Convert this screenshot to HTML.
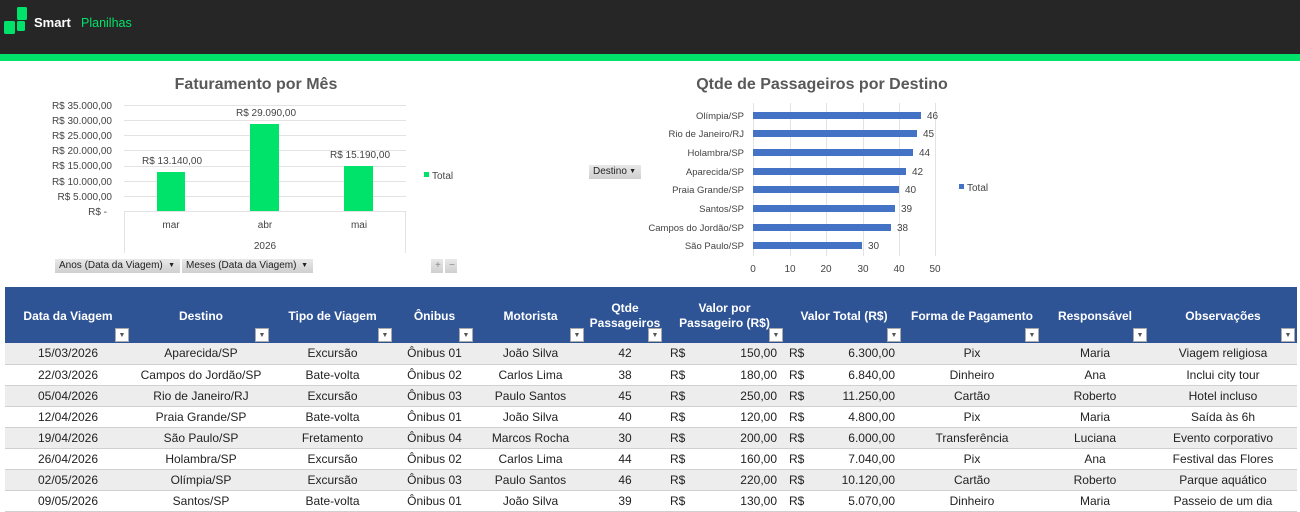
<!DOCTYPE html>
<html><head><meta charset="utf-8"><style>
*{margin:0;padding:0;box-sizing:border-box}
body{width:1300px;height:512px;overflow:hidden;background:#fff;font-family:"Liberation Sans",sans-serif;position:relative}
.top{position:absolute;left:0;top:0;width:1300px;height:54px;background:#262626}
.stripe{position:absolute;left:0;top:54px;width:1300px;height:7px;background:#00E36A}
.btn{position:absolute;height:14px;background:linear-gradient(#e8e8e8,#cfcfcf);font-size:10px;color:#222;padding-left:4px;line-height:14px}
.btn span{position:absolute;right:5px;top:0;font-size:7px}
table{position:absolute;left:5px;top:287px;border-collapse:collapse;table-layout:fixed;width:1292px;font-size:12px;color:#222}
th{background:#2F5496;color:#fff;font-size:12px;font-weight:bold;height:56px;position:relative;text-align:center;line-height:15px;padding-top:2px}
th i{position:absolute;right:2px;bottom:1px;width:14px;height:14px;background:#fff;border:1px solid #aaa;font-style:normal;color:#555;font-size:7px;line-height:13px;text-align:center}
td{height:21px;text-align:center;white-space:nowrap;border-bottom:1px solid #d0d0d0}
tr.g td{background:#EDEDED}
td.r{text-align:right;padding-right:8px}
</style></head><body>
<div class="top"></div><div class="stripe"></div>
<svg style="position:absolute;left:0;top:0" width="200" height="54">
<rect x="17" y="7" width="10" height="13" rx="1.5" fill="#00E36A"/>
<rect x="4" y="21" width="11" height="13" rx="1.5" fill="#00E36A"/>
<rect x="17" y="21" width="8" height="10" rx="1.5" fill="#00E36A"/>
<text x="34" y="27" font-family="Liberation Sans" font-weight="bold" font-size="13" fill="#fff">Smart</text>
<text x="81" y="27" font-family="Liberation Sans" font-size="12.5" fill="#00E36A">Planilhas</text>
</svg>

<svg style="position:absolute;left:0;top:60px" width="1300" height="220" font-family="Liberation Sans">
<g transform="translate(0,-60)">
<text x="256" y="89" text-anchor="middle" font-size="16" font-weight="bold" fill="#595959">Faturamento por Mês</text>
<g stroke="#e3e3e3" stroke-width="1">
<line x1="124" x2="406" y1="105.5" y2="105.5"/><line x1="124" x2="406" y1="120.5" y2="120.5"/>
<line x1="124" x2="406" y1="135.5" y2="135.5"/><line x1="124" x2="406" y1="150.5" y2="150.5"/>
<line x1="124" x2="406" y1="166.5" y2="166.5"/><line x1="124" x2="406" y1="181.5" y2="181.5"/>
<line x1="124" x2="406" y1="196.5" y2="196.5"/><line x1="124" x2="406" y1="211.5" y2="211.5"/>
<line x1="124.5" x2="124.5" y1="211" y2="253"/><line x1="405.5" x2="405.5" y1="211" y2="253"/>
</g>
<g font-size="10" fill="#444" text-anchor="end">
<text x="112" y="109">R$ 35.000,00</text><text x="112" y="124">R$ 30.000,00</text>
<text x="112" y="139">R$ 25.000,00</text><text x="112" y="154">R$ 20.000,00</text>
<text x="112" y="169">R$ 15.000,00</text><text x="112" y="185">R$ 10.000,00</text>
<text x="112" y="200">R$ 5.000,00</text><text x="107" y="215">R$ -</text>
</g>
<rect x="157" y="172" width="28" height="39" fill="#00E36A"/>
<rect x="250" y="124" width="29" height="87" fill="#00E36A"/>
<rect x="344" y="166" width="29" height="45" fill="#00E36A"/>
<g font-size="10" fill="#444" text-anchor="middle">
<text x="172" y="164">R$ 13.140,00</text><text x="266" y="116">R$ 29.090,00</text><text x="360" y="158">R$ 15.190,00</text>
<text x="171" y="228">mar</text><text x="265" y="228">abr</text><text x="359" y="228">mai</text>
<text x="265" y="249">2026</text>
</g>
<rect x="424" y="172" width="5" height="5" fill="#00E36A"/><text x="432" y="179" font-size="10" fill="#444">Total</text>

<text x="822" y="89" text-anchor="middle" font-size="16" font-weight="bold" fill="#595959">Qtde de Passageiros por Destino</text>
<g stroke="#e3e3e3">
<line x1="753.5" x2="753.5" y1="103" y2="256"/><line x1="790.5" x2="790.5" y1="103" y2="256"/>
<line x1="826.5" x2="826.5" y1="103" y2="256"/><line x1="863.5" x2="863.5" y1="103" y2="256"/>
<line x1="899.5" x2="899.5" y1="103" y2="256"/><line x1="935.5" x2="935.5" y1="103" y2="256"/>
</g>
<g fill="#4472C4">
<rect x="753" y="112" width="168" height="7"/><rect x="753" y="130" width="164" height="7"/>
<rect x="753" y="149" width="160" height="7"/><rect x="753" y="168" width="153" height="7"/>
<rect x="753" y="186" width="146" height="7"/><rect x="753" y="205" width="142" height="7"/>
<rect x="753" y="224" width="138" height="7"/><rect x="753" y="242" width="109" height="7"/>
</g>
<g font-size="9.5" fill="#444" text-anchor="end">
<text x="744" y="119">Olímpia/SP</text><text x="744" y="137">Rio de Janeiro/RJ</text>
<text x="744" y="156">Holambra/SP</text><text x="744" y="175">Aparecida/SP</text>
<text x="744" y="193">Praia Grande/SP</text><text x="744" y="212">Santos/SP</text>
<text x="744" y="231">Campos do Jordão/SP</text><text x="744" y="249">São Paulo/SP</text>
</g>
<g font-size="10" fill="#444">
<text x="927" y="119">46</text><text x="923" y="137">45</text><text x="919" y="156">44</text><text x="912" y="175">42</text>
<text x="905" y="193">40</text><text x="901" y="212">39</text><text x="897" y="231">38</text><text x="868" y="249">30</text>
</g>
<g font-size="10" fill="#444" text-anchor="middle">
<text x="753" y="272">0</text><text x="790" y="272">10</text><text x="826" y="272">20</text>
<text x="863" y="272">30</text><text x="899" y="272">40</text><text x="935" y="272">50</text>
</g>
<rect x="959" y="184" width="5" height="5" fill="#4472C4"/><text x="967" y="191" font-size="10" fill="#444">Total</text>
</g></svg>

<div class="btn" style="left:55px;top:259px;width:125px">Anos (Data da Viagem)<span>▼</span></div>
<div class="btn" style="left:182px;top:259px;width:131px">Meses (Data da Viagem)<span>▼</span></div>
<div class="btn" style="left:431px;top:259px;width:12px;color:#888">+</div>
<div class="btn" style="left:445px;top:259px;width:12px;color:#888">−</div>
<div class="btn" style="left:589px;top:165px;width:52px">Destino<span>▼</span></div>

<table>
<colgroup><col style="width:126px"><col style="width:140px"><col style="width:123px"><col style="width:81px"><col style="width:111px"><col style="width:78px"><col style="width:121px"><col style="width:118px"><col style="width:138px"><col style="width:108px"><col style="width:148px"></colgroup>
<tr><th>Data da Viagem<i>▼</i></th><th>Destino<i>▼</i></th><th>Tipo de Viagem<i>▼</i></th><th>Ônibus<i>▼</i></th><th>Motorista<i>▼</i></th><th>Qtde<br>Passageiros<i>▼</i></th><th>Valor por<br>Passageiro (R$)<i>▼</i></th><th>Valor Total (R$)<i>▼</i></th><th>Forma de Pagamento<i>▼</i></th><th>Responsável<i>▼</i></th><th>Observações<i>▼</i></th></tr>
<tr class="g"><td>15/03/2026</td><td>Aparecida/SP</td><td>Excursão</td><td>Ônibus 01</td><td>João Silva</td><td>42</td><td class="r"><span style="float:left;padding-left:6px">R$</span>150,00</td><td class="r"><span style="float:left;padding-left:4px">R$</span>6.300,00</td><td>Pix</td><td>Maria</td><td>Viagem religiosa</td></tr>
<tr><td>22/03/2026</td><td>Campos do Jordão/SP</td><td>Bate-volta</td><td>Ônibus 02</td><td>Carlos Lima</td><td>38</td><td class="r"><span style="float:left;padding-left:6px">R$</span>180,00</td><td class="r"><span style="float:left;padding-left:4px">R$</span>6.840,00</td><td>Dinheiro</td><td>Ana</td><td>Inclui city tour</td></tr>
<tr class="g"><td>05/04/2026</td><td>Rio de Janeiro/RJ</td><td>Excursão</td><td>Ônibus 03</td><td>Paulo Santos</td><td>45</td><td class="r"><span style="float:left;padding-left:6px">R$</span>250,00</td><td class="r"><span style="float:left;padding-left:4px">R$</span>11.250,00</td><td>Cartão</td><td>Roberto</td><td>Hotel incluso</td></tr>
<tr><td>12/04/2026</td><td>Praia Grande/SP</td><td>Bate-volta</td><td>Ônibus 01</td><td>João Silva</td><td>40</td><td class="r"><span style="float:left;padding-left:6px">R$</span>120,00</td><td class="r"><span style="float:left;padding-left:4px">R$</span>4.800,00</td><td>Pix</td><td>Maria</td><td>Saída às 6h</td></tr>
<tr class="g"><td>19/04/2026</td><td>São Paulo/SP</td><td>Fretamento</td><td>Ônibus 04</td><td>Marcos Rocha</td><td>30</td><td class="r"><span style="float:left;padding-left:6px">R$</span>200,00</td><td class="r"><span style="float:left;padding-left:4px">R$</span>6.000,00</td><td>Transferência</td><td>Luciana</td><td>Evento corporativo</td></tr>
<tr><td>26/04/2026</td><td>Holambra/SP</td><td>Excursão</td><td>Ônibus 02</td><td>Carlos Lima</td><td>44</td><td class="r"><span style="float:left;padding-left:6px">R$</span>160,00</td><td class="r"><span style="float:left;padding-left:4px">R$</span>7.040,00</td><td>Pix</td><td>Ana</td><td>Festival das Flores</td></tr>
<tr class="g"><td>02/05/2026</td><td>Olímpia/SP</td><td>Excursão</td><td>Ônibus 03</td><td>Paulo Santos</td><td>46</td><td class="r"><span style="float:left;padding-left:6px">R$</span>220,00</td><td class="r"><span style="float:left;padding-left:4px">R$</span>10.120,00</td><td>Cartão</td><td>Roberto</td><td>Parque aquático</td></tr>
<tr><td>09/05/2026</td><td>Santos/SP</td><td>Bate-volta</td><td>Ônibus 01</td><td>João Silva</td><td>39</td><td class="r"><span style="float:left;padding-left:6px">R$</span>130,00</td><td class="r"><span style="float:left;padding-left:4px">R$</span>5.070,00</td><td>Dinheiro</td><td>Maria</td><td>Passeio de um dia</td></tr>
</table>
</body></html>
